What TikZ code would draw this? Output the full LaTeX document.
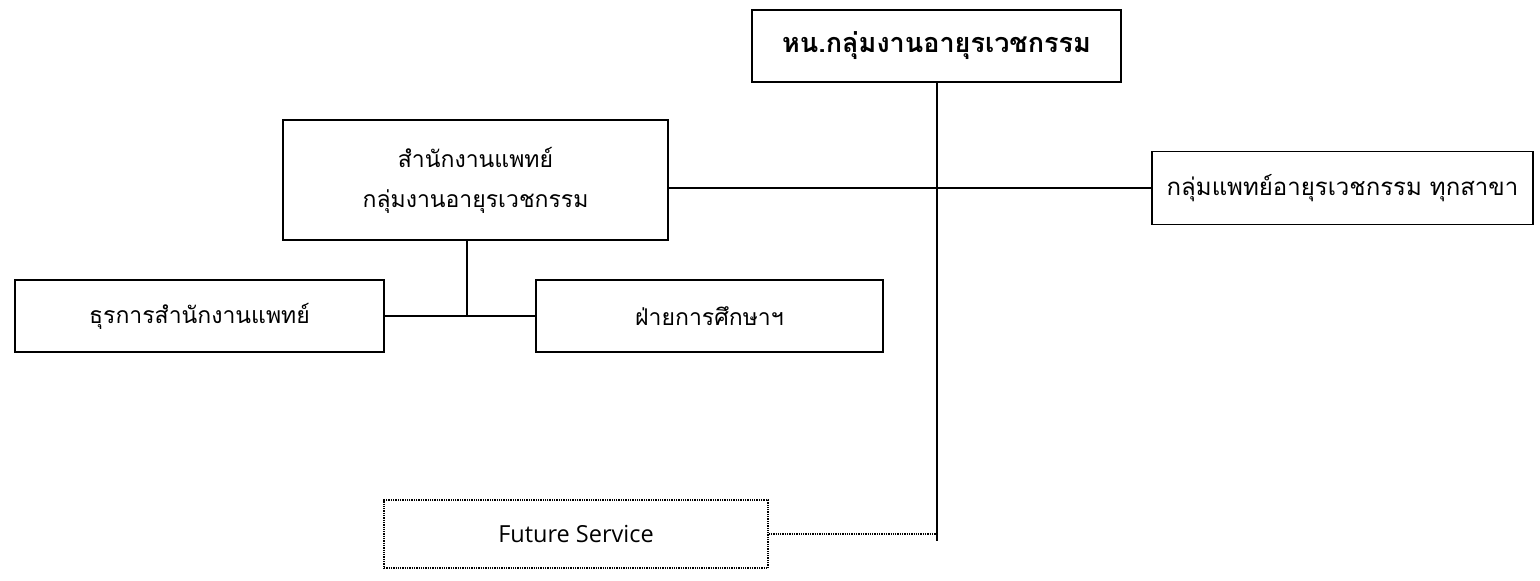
\documentclass[tikz,border=0pt]{standalone}
\usepackage{fontspec}
\newfontfamily\thaifont[Script=Thai]{Loma}
\setmainfont{Open Sans}
\begin{document}
\begin{tikzpicture}[x=1pt,y=-1pt,
  box/.style={draw, line width=1.6pt, inner sep=0pt, font=\thaifont\fontsize{23}{40}\selectfont, align=center},
  topbox/.style={box, line width=2.4pt, font=\thaifont\bfseries\fontsize{27}{30}\selectfont},
  futbox/.style={draw, line width=1.3pt, densely dotted, inner sep=0pt, font=\fontsize{23.5}{27}\selectfont},
  conn/.style={line width=1.6pt}]
\useasboundingbox (0,0) rectangle (1540,581);
\node[topbox, minimum width=369pt, minimum height=72pt] (top) at (936.5,46) {หน.กลุ่มงานอายุรเวชกรรม};
\node[box, minimum width=385pt, minimum height=120pt] (office) at (475.5,180) {สำนักงานแพทย์\\กลุ่มงานอายุรเวชกรรม};
\node[box, minimum width=381pt, minimum height=73pt, font=\thaifont\fontsize{24}{28}\selectfont] (right) at (1342.5,188) {กลุ่มแพทย์อายุรเวชกรรม ทุกสาขา};
\node[box, minimum width=369pt, minimum height=72pt] (bl) at (199.5,316) {ธุรการสำนักงานแพทย์};
\node[box, minimum width=347pt, minimum height=72pt] (bm) at (709.5,316) {ฝ่ายการศึกษาฯ};
\node[futbox, minimum width=384pt, minimum height=68pt] (fut) at (576,534) {Future Service};
\coordinate (j) at (467,316);
\coordinate (t) at (937,541);
\draw[conn] (top.south -| t) -- (t);
\draw[conn] (office.east |- right.west) -- (right.west);
\draw[conn] (office.south -| j) -- (j);
\draw[conn] (bl.east) -- (bm.west);
\draw[line width=1.3pt, densely dotted] (fut.east) -- (fut.east -| t);
\end{tikzpicture}
\end{document}
